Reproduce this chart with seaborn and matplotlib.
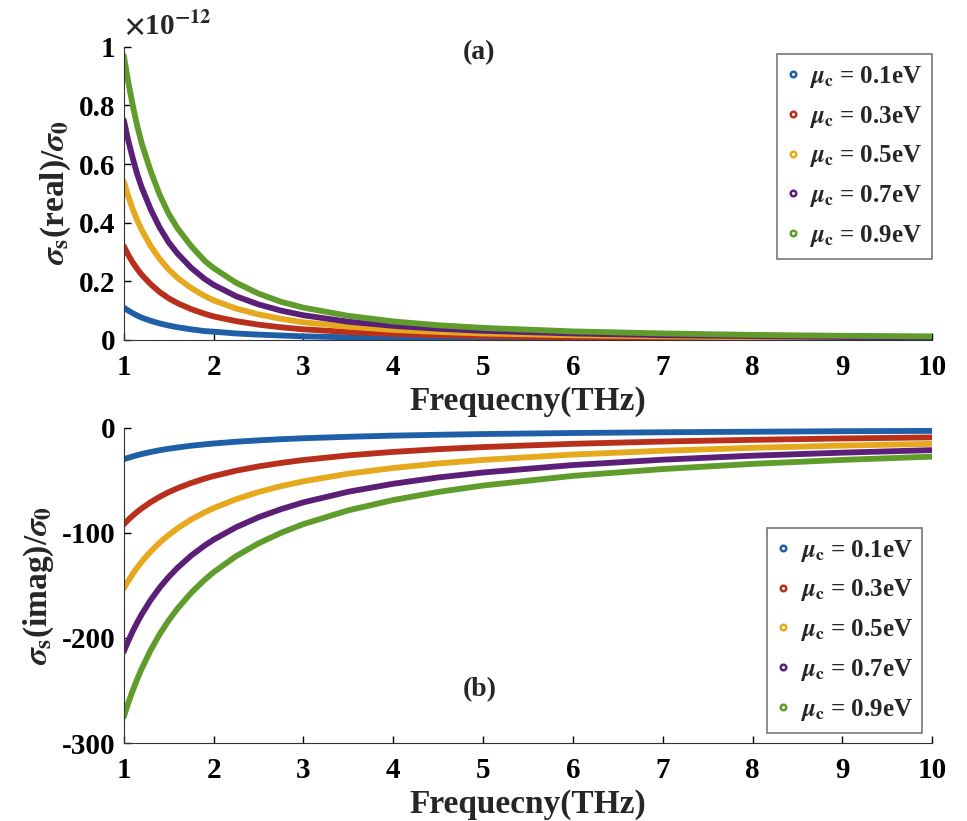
import numpy as np
import pandas as pd
import seaborn as sns
import matplotlib.pyplot as plt
from matplotlib.lines import Line2D

freq = [1, 1.05, 1.1, 1.15, 1.2, 1.3, 1.4, 1.5, 1.6, 1.75, 1.9, 2, 2.25, 2.5, 2.75,
        3, 3.5, 4, 4.5, 5, 6, 7, 8, 9, 10]
labels = ["0.1eV", "0.3eV", "0.5eV", "0.7eV", "0.9eV"]
colors = ["#1f5fa8", "#b8301c", "#e6a81c", "#5c1f78", "#5f9c2c"]

# real part, in units of 1e-12
real_01 = [0.11, 0.1, 0.091, 0.083, 0.076, 0.065, 0.056, 0.049, 0.043, 0.036, 0.03, 0.028, 0.022,
           0.018, 0.015, 0.012, 0.009, 0.007, 0.005, 0.004, 0.003, 0.002, 0.002, 0.001, 0.001]
real_03 = [0.32, 0.29, 0.264, 0.242, 0.222, 0.19, 0.163, 0.142, 0.125, 0.105, 0.089, 0.08, 0.064,
           0.052, 0.043, 0.036, 0.027, 0.02, 0.016, 0.013, 0.009, 0.007, 0.005, 0.004, 0.003]
real_05 = [0.54, 0.49, 0.446, 0.408, 0.375, 0.32, 0.276, 0.24, 0.211, 0.177, 0.15, 0.135, 0.107,
           0.087, 0.072, 0.06, 0.045, 0.034, 0.027, 0.022, 0.016, 0.012, 0.009, 0.007, 0.006]
real_07 = [0.75, 0.68, 0.62, 0.565, 0.52, 0.445, 0.383, 0.333, 0.294, 0.246, 0.208, 0.188, 0.149,
           0.121, 0.1, 0.084, 0.062, 0.048, 0.038, 0.031, 0.022, 0.016, 0.013, 0.010, 0.008]
real_09 = [0.97, 0.88, 0.80, 0.73, 0.67, 0.575, 0.495, 0.43, 0.38, 0.32, 0.27, 0.245, 0.195,
           0.158, 0.13, 0.11, 0.082, 0.063, 0.05, 0.041, 0.029, 0.022, 0.017, 0.014, 0.012]

imag_01 = [-30, -28.6, -27.3, -26.1, -25, -23.1, -21.4, -20, -18.8, -17.1, -15.8, -15, -13.3,
           -12, -10.9, -10, -8.6, -7.5, -6.7, -6, -5, -4.3, -3.8, -3.3, -3]
imag_03 = [-92, -87.6, -83.6, -80, -76.7, -70.8, -65.7, -61.3, -57.5, -52.6, -48.4, -46, -40.9,
           -36.8, -33.5, -30.7, -26.3, -23, -20.4, -18.4, -15.3, -13.1, -11.5, -10.2, -9.2]
imag_05 = [-153, -145.7, -139.1, -133, -127.5, -117.7, -109.3, -102, -95.6, -87.4, -80.5, -76.5, -68,
           -61.2, -55.6, -51, -43.7, -38.3, -34, -30.6, -25.5, -21.9, -19.1, -17, -15.3]
imag_07 = [-213, -202.9, -193.6, -185.2, -177.5, -163.8, -152.1, -142, -133.1, -121.7, -112.1, -106.5, -94.7,
           -85.2, -77.5, -71, -60.9, -53.3, -47.3, -42.6, -35.5, -30.4, -26.6, -23.7, -21.3]
imag_09 = [-275, -261.9, -250, -239.1, -229.2, -211.5, -196.4, -183.3, -171.9, -157.1, -144.7, -137.5, -122.2,
           -110, -100, -91.7, -78.6, -68.8, -61.1, -55, -45.8, -39.3, -34.4, -30.6, -27.5]

reals = [real_01, real_03, real_05, real_07, real_09]
imags = [imag_01, imag_03, imag_05, imag_07, imag_09]

rows = []
for lab, r, im in zip(labels, reals, imags):
    for f, a, b in zip(freq, r, im):
        rows.append({"f": f, "real": a, "imag": b, "mu": lab})
df = pd.DataFrame(rows)

sns.set_style("ticks")
plt.rcParams['font.family'] = ['Liberation Serif', 'DejaVu Serif']
plt.rcParams['font.weight'] = 'bold'
plt.rcParams['mathtext.fontset'] = 'stix'
plt.rcParams['xtick.direction'] = 'in'
plt.rcParams['ytick.direction'] = 'in'

fig = plt.figure(figsize=(9.67, 8.21), dpi=100)
ax1 = fig.add_axes([0.128, 0.586, 0.836, 0.357])
ax2 = fig.add_axes([0.128, 0.095, 0.836, 0.384])

pal = dict(zip(labels, colors))
sns.lineplot(data=df, x="f", y="real", hue="mu", palette=pal, lw=4.2, ax=ax1, legend=False)
sns.lineplot(data=df, x="f", y="imag", hue="mu", palette=pal, lw=4.2, ax=ax2, legend=False)

for ax in (ax1, ax2):
    sns.despine(ax=ax)
    ax.set_xlim(1, 10)
    ax.set_xticks(range(1, 11))
    ax.tick_params(labelsize=21, width=1, length=5, colors='black')
    ax.tick_params(axis='x', pad=10)
    ax.tick_params(axis='y', pad=6)
    ax.spines['left'].set_color('#333333')
    ax.spines['bottom'].set_color('#333333')
    ax.set_xlabel("Frequecny(THz)", fontsize=24, fontweight='bold', labelpad=4)
    for t in ax.get_xticklabels() + ax.get_yticklabels():
        t.set_fontweight('bold')

ax1.set_ylim(0, 1)
ax1.set_yticks([0, 0.2, 0.4, 0.6, 0.8, 1])
ax1.set_yticklabels(["0", "0.2", "0.4", "0.6", "0.8", "1"], fontweight='bold')
ax1.set_ylabel(r"$\sigma_{\mathbf{s}}$(real)/$\sigma_{\mathbf{0}}$", fontsize=24, fontweight='bold', labelpad=4)
ax1.text(0, 1.02, r"$\times$10$^{\mathbf{-12}}$", transform=ax1.transAxes, fontsize=21, fontweight='bold', va='bottom', ha='left')
ax1.text(0.44, 0.98, "(a)", transform=ax1.transAxes, fontsize=20, fontweight='bold', ha='center', va='center')

ax2.set_ylim(-300, 0)
ax2.set_yticks([-300, -200, -100, 0])
ax2.set_yticklabels(["-300", "-200", "-100", "0"], fontweight='bold')
ax2.set_ylabel(r"$\sigma_{\mathbf{s}}$(imag)/$\sigma_{\mathbf{0}}$", fontsize=24, fontweight='bold', labelpad=4)
ax2.text(0.44, 0.17, "(b)", transform=ax2.transAxes, fontsize=20, fontweight='bold', ha='center', va='center')

handles = [Line2D([], [], ls='', marker='o', markersize=4, markerfacecolor='none',
                  markeredgecolor=c, markeredgewidth=1.8) for c in colors]
leg_labels = [r"$\mu_{\mathbf{c}}$ = " + lab for lab in labels]

for ax, anchor in ((ax1, (1.0, 0.976)), (ax2, (0.988, 0.683))):
    leg = ax.legend(handles, leg_labels, loc='upper right', bbox_to_anchor=anchor,
                    prop={'size': 18, 'weight': 'bold'}, frameon=True, fancybox=False,
                    handlelength=0.5, handletextpad=0.4, labelspacing=0.55, borderpad=0.4,
                    borderaxespad=0)
    leg.get_frame().set_edgecolor('#555555')
    leg.get_frame().set_linewidth(1.2)

fig.savefig("out.png", dpi=100)
